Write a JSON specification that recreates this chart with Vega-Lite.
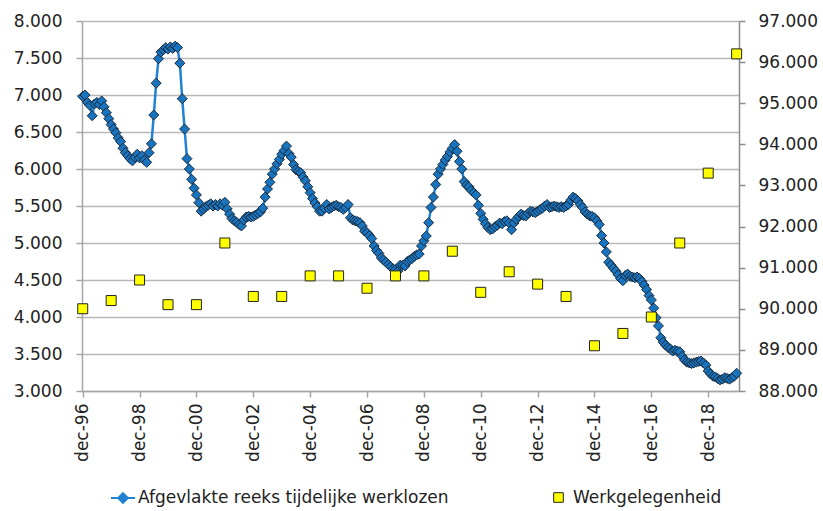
{
"$schema":"https://vega.github.io/schema/vega-lite/v6.json",
"width":657,"height":370,
"padding":{"left":13,"top":12,"right":5,"bottom":5},
"background":"white",
"config":{"view":{"stroke":null},"font":"DejaVu Sans",
"axis":{"labelFont":"DejaVu Sans","labelFontSize":17,"labelColor":"#222222","domainColor":"#a6a6a6","domainWidth":1.5,"tickColor":"#a6a6a6","tickWidth":1.5,"tickSize":6,"title":null,"labelOverlap":false,"labelFlush":false,"labelBound":false},
"legend":{"padding":0,"labelFont":"DejaVu Sans","labelFontSize":17,"labelColor":"#222222","title":null,"labelLimit":500}},
"datasets":{
"werkloosheid":[
{"maand":0,"waarde":6980},{"maand":1,"waarde":7000},{"maand":2,"waarde":6900},{"maand":3,"waarde":6860},{"maand":4,"waarde":6720},{"maand":5,"waarde":6880},{"maand":6,"waarde":6900},{"maand":7,"waarde":6870},{"maand":8,"waarde":6920},{"maand":9,"waarde":6840},
{"maand":10,"waarde":6760},{"maand":11,"waarde":6680},{"maand":12,"waarde":6600},{"maand":13,"waarde":6540},{"maand":14,"waarde":6490},{"maand":15,"waarde":6420},{"maand":16,"waarde":6370},{"maand":17,"waarde":6280},{"maand":18,"waarde":6220},{"maand":19,"waarde":6180},
{"maand":20,"waarde":6140},{"maand":21,"waarde":6110},{"maand":22,"waarde":6160},{"maand":23,"waarde":6200},{"maand":24,"waarde":6150},{"maand":25,"waarde":6180},{"maand":26,"waarde":6120},{"maand":27,"waarde":6090},{"maand":28,"waarde":6220},{"maand":29,"waarde":6340},
{"maand":30,"waarde":6730},{"maand":31,"waarde":7160},{"maand":32,"waarde":7490},{"maand":33,"waarde":7580},{"maand":34,"waarde":7610},{"maand":35,"waarde":7640},{"maand":36,"waarde":7620},{"maand":37,"waarde":7650},{"maand":38,"waarde":7630},{"maand":39,"waarde":7660},
{"maand":40,"waarde":7640},{"maand":41,"waarde":7430},{"maand":42,"waarde":6950},{"maand":43,"waarde":6540},{"maand":44,"waarde":6140},{"maand":45,"waarde":6000},{"maand":46,"waarde":5860},{"maand":47,"waarde":5740},{"maand":48,"waarde":5650},{"maand":49,"waarde":5545},
{"maand":50,"waarde":5430},{"maand":51,"waarde":5460},{"maand":52,"waarde":5490},{"maand":53,"waarde":5510},{"maand":54,"waarde":5530},{"maand":55,"waarde":5500},{"maand":56,"waarde":5520},{"maand":57,"waarde":5500},{"maand":58,"waarde":5530},{"maand":59,"waarde":5510},
{"maand":60,"waarde":5550},{"maand":61,"waarde":5460},{"maand":62,"waarde":5390},{"maand":63,"waarde":5330},{"maand":64,"waarde":5300},{"maand":65,"waarde":5280},{"maand":66,"waarde":5250},{"maand":67,"waarde":5230},{"maand":68,"waarde":5310},{"maand":69,"waarde":5350},
{"maand":70,"waarde":5360},{"maand":71,"waarde":5350},{"maand":72,"waarde":5360},{"maand":73,"waarde":5380},{"maand":74,"waarde":5400},{"maand":75,"waarde":5420},{"maand":76,"waarde":5470},{"maand":77,"waarde":5620},{"maand":78,"waarde":5730},{"maand":79,"waarde":5820},
{"maand":80,"waarde":5930},{"maand":81,"waarde":6000},{"maand":82,"waarde":6070},{"maand":83,"waarde":6130},{"maand":84,"waarde":6200},{"maand":85,"waarde":6250},{"maand":86,"waarde":6310},{"maand":87,"waarde":6210},{"maand":88,"waarde":6160},{"maand":89,"waarde":6060},
{"maand":90,"waarde":5990},{"maand":91,"waarde":5970},{"maand":92,"waarde":5950},{"maand":93,"waarde":5890},{"maand":94,"waarde":5840},{"maand":95,"waarde":5760},{"maand":96,"waarde":5680},{"maand":97,"waarde":5600},{"maand":98,"waarde":5540},{"maand":99,"waarde":5490},
{"maand":100,"waarde":5430},{"maand":101,"waarde":5430},{"maand":102,"waarde":5470},{"maand":103,"waarde":5520},{"maand":104,"waarde":5460},{"maand":105,"waarde":5480},{"maand":106,"waarde":5500},{"maand":107,"waarde":5510},{"maand":108,"waarde":5490},{"maand":109,"waarde":5480},
{"maand":110,"waarde":5455},{"maand":111,"waarde":5480},{"maand":112,"waarde":5520},{"maand":113,"waarde":5340},{"maand":114,"waarde":5310},{"maand":115,"waarde":5300},{"maand":116,"waarde":5290},{"maand":117,"waarde":5275},{"maand":118,"waarde":5230},{"maand":119,"waarde":5160},
{"maand":120,"waarde":5140},{"maand":121,"waarde":5100},{"maand":122,"waarde":5060},{"maand":123,"waarde":4960},{"maand":124,"waarde":4900},{"maand":125,"waarde":4860},{"maand":126,"waarde":4800},{"maand":127,"waarde":4770},{"maand":128,"waarde":4740},{"maand":129,"waarde":4710},
{"maand":130,"waarde":4680},{"maand":131,"waarde":4650},{"maand":132,"waarde":4640},{"maand":133,"waarde":4620},{"maand":134,"waarde":4700},{"maand":135,"waarde":4700},{"maand":136,"waarde":4690},{"maand":137,"waarde":4750},{"maand":138,"waarde":4770},{"maand":139,"waarde":4790},
{"maand":140,"waarde":4820},{"maand":141,"waarde":4840},{"maand":142,"waarde":4850},{"maand":143,"waarde":4960},{"maand":144,"waarde":5030},{"maand":145,"waarde":5095},{"maand":146,"waarde":5275},{"maand":147,"waarde":5480},{"maand":148,"waarde":5620},{"maand":149,"waarde":5790},
{"maand":150,"waarde":5930},{"maand":151,"waarde":6000},{"maand":152,"waarde":6060},{"maand":153,"waarde":6120},{"maand":154,"waarde":6170},{"maand":155,"waarde":6230},{"maand":156,"waarde":6280},{"maand":157,"waarde":6330},{"maand":158,"waarde":6240},{"maand":159,"waarde":6100},
{"maand":160,"waarde":6000},{"maand":161,"waarde":5830},{"maand":162,"waarde":5780},{"maand":163,"waarde":5760},{"maand":164,"waarde":5710},{"maand":165,"waarde":5680},{"maand":166,"waarde":5650},{"maand":167,"waarde":5510},{"maand":168,"waarde":5400},{"maand":169,"waarde":5320},
{"maand":170,"waarde":5260},{"maand":171,"waarde":5210},{"maand":172,"waarde":5180},{"maand":173,"waarde":5190},{"maand":174,"waarde":5220},{"maand":175,"waarde":5240},{"maand":176,"waarde":5270},{"maand":177,"waarde":5260},{"maand":178,"waarde":5290},{"maand":179,"waarde":5300},
{"maand":180,"waarde":5270},{"maand":181,"waarde":5180},{"maand":182,"waarde":5270},{"maand":183,"waarde":5320},{"maand":184,"waarde":5360},{"maand":185,"waarde":5390},{"maand":186,"waarde":5370},{"maand":187,"waarde":5365},{"maand":188,"waarde":5400},{"maand":189,"waarde":5430},
{"maand":190,"waarde":5420},{"maand":191,"waarde":5410},{"maand":192,"waarde":5430},{"maand":193,"waarde":5450},{"maand":194,"waarde":5470},{"maand":195,"waarde":5500},{"maand":196,"waarde":5520},{"maand":197,"waarde":5480},{"maand":198,"waarde":5490},{"maand":199,"waarde":5500},
{"maand":200,"waarde":5490},{"maand":201,"waarde":5480},{"maand":202,"waarde":5490},{"maand":203,"waarde":5480},{"maand":204,"waarde":5500},{"maand":205,"waarde":5520},{"maand":206,"waarde":5580},{"maand":207,"waarde":5620},{"maand":208,"waarde":5600},{"maand":209,"waarde":5570},
{"maand":210,"waarde":5520},{"maand":211,"waarde":5480},{"maand":212,"waarde":5420},{"maand":213,"waarde":5390},{"maand":214,"waarde":5365},{"maand":215,"waarde":5360},{"maand":216,"waarde":5340},{"maand":217,"waarde":5300},{"maand":218,"waarde":5250},{"maand":219,"waarde":5100},
{"maand":220,"waarde":5000},{"maand":221,"waarde":4880},{"maand":222,"waarde":4740},{"maand":223,"waarde":4700},{"maand":224,"waarde":4660},{"maand":225,"waarde":4620},{"maand":226,"waarde":4570},{"maand":227,"waarde":4520},{"maand":228,"waarde":4490},{"maand":229,"waarde":4560},
{"maand":230,"waarde":4580},{"maand":231,"waarde":4550},{"maand":232,"waarde":4540},{"maand":233,"waarde":4530},{"maand":234,"waarde":4540},{"maand":235,"waarde":4520},{"maand":236,"waarde":4480},{"maand":237,"waarde":4430},{"maand":238,"waarde":4370},{"maand":239,"waarde":4290},
{"maand":240,"waarde":4230},{"maand":241,"waarde":4120},{"maand":242,"waarde":3990},{"maand":243,"waarde":3880},{"maand":244,"waarde":3720},{"maand":245,"waarde":3660},{"maand":246,"waarde":3620},{"maand":247,"waarde":3590},{"maand":248,"waarde":3570},{"maand":249,"waarde":3540},
{"maand":250,"waarde":3550},{"maand":251,"waarde":3540},{"maand":252,"waarde":3530},{"maand":253,"waarde":3470},{"maand":254,"waarde":3420},{"maand":255,"waarde":3390},{"maand":256,"waarde":3380},{"maand":257,"waarde":3370},{"maand":258,"waarde":3380},{"maand":259,"waarde":3390},
{"maand":260,"waarde":3400},{"maand":261,"waarde":3405},{"maand":262,"waarde":3380},{"maand":263,"waarde":3350},{"maand":264,"waarde":3270},{"maand":265,"waarde":3230},{"maand":266,"waarde":3200},{"maand":267,"waarde":3190},{"maand":268,"waarde":3170},{"maand":269,"waarde":3150},
{"maand":270,"waarde":3160},{"maand":271,"waarde":3180},{"maand":272,"waarde":3170},{"maand":273,"waarde":3160},{"maand":274,"waarde":3180},{"maand":275,"waarde":3200},{"maand":276,"waarde":3240}
],
"werkgelegenheid":[
{"maand":0,"waarde":90000},{"maand":12,"waarde":90200},{"maand":24,"waarde":90700},{"maand":36,"waarde":90100},{"maand":48,"waarde":90100},{"maand":60,"waarde":91600},{"maand":72,"waarde":90300},{"maand":84,"waarde":90300},{"maand":96,"waarde":90800},{"maand":108,"waarde":90800},{"maand":120,"waarde":90500},{"maand":132,"waarde":90800},{"maand":144,"waarde":90800},{"maand":156,"waarde":91400},{"maand":168,"waarde":90400},{"maand":180,"waarde":90900},{"maand":192,"waarde":90600},{"maand":204,"waarde":90300},{"maand":216,"waarde":89100},{"maand":228,"waarde":89400},{"maand":240,"waarde":89800},{"maand":252,"waarde":91600},{"maand":264,"waarde":93300},{"maand":276,"waarde":96200}
]},
"layer":[
{"data":{"name":"werkloosheid"},
"mark":{"type":"line","strokeWidth":2.5,"point":{"shape":"diamond","filled":true,"fill":"#1874bf","stroke":"#1b2a3a","strokeWidth":1,"size":100,"opacity":1}},
"encoding":{
"x":{"field":"maand","type":"quantitative","scale":{"domain":[-0.3,277],"nice":false,"zero":false},
"axis":{"values":[0,12,24,36,48,60,72,84,96,108,120,132,144,156,168,180,192,204,216,228,240,252,264,276],"labelAngle":-90,"labelAlign":"right","labelBaseline":"middle","labelPadding":6,"labelOverlap":false,"labelSeparation":0,"grid":false,"labelExpr":"'dec-' + ((96 + datum.value/12) % 100 < 10 ? '0' : '') + ((96 + datum.value/12) % 100)"}},
"y":{"field":"waarde","type":"quantitative","scale":{"domain":[3000,8000],"nice":false,"zero":false},
"axis":{"orient":"left","values":[3000,3500,4000,4500,5000,5500,6000,6500,7000,7500,8000],"grid":true,"gridColor":"#b8b8b8","gridWidth":1.5,"gridOpacity":1,"labelPadding":14,"labelExpr":"replace(format(datum.value, ','), ',', '.')"}},
"color":{"datum":"Afgevlakte reeks tijdelijke werklozen","type":"nominal","scale":{"range":["#1f82d2"]},
"legend":{"orient":"none","legendX":28,"legendY":464,"symbolType":"M-1,0H1M0,-0.4L0.4,0L0,0.4L-0.4,0Z","symbolSize":576,"symbolStrokeWidth":2,"labelOffset":2,
"encode":{"symbols":{"update":{"fill":{"value":"#1874bf"},"stroke":{"value":"#1f82d2"}}}}}}}},
{"data":{"name":"werkgelegenheid"},
"mark":{"type":"point","shape":"square","filled":true,"stroke":"#222222","strokeWidth":1,"size":100,"opacity":1},
"encoding":{
"x":{"field":"maand","type":"quantitative","axis":{"labelOverlap":false}},
"y":{"field":"waarde","type":"quantitative","scale":{"domain":[88000,97000],"nice":false,"zero":false},
"axis":{"orient":"right","values":[88000,89000,90000,91000,92000,93000,94000,95000,96000,97000],"grid":false,"labelPadding":13,"domainColor":"#8c8c8c","tickColor":"#8c8c8c","labelExpr":"replace(format(datum.value, ','), ',', '.')"}},
"fill":{"datum":"Werkgelegenheid","type":"nominal","scale":{"range":["#ffff00"]},
"legend":{"orient":"none","legendX":464,"legendY":464,"symbolType":"M-0.4,-0.4H0.4V0.4H-0.4Z","symbolSize":576,"symbolStrokeColor":"#222222","symbolStrokeWidth":1,"labelOffset":2}}}}
],
"resolve":{"scale":{"y":"independent"},"axis":{"y":"independent"}}
}
